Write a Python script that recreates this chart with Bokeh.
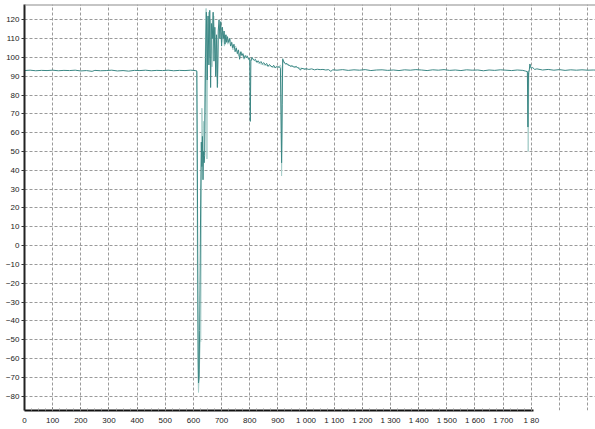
from bokeh.plotting import figure
from bokeh.models import Range1d, FixedTicker, Span
from bokeh.embed import file_html
from bokeh.resources import INLINE

nan = float("nan")

# main (dark) trace
x_dark = [0, 20, 40, 60, 80, 100, 120, 140, 160, 180, 200, 220, 240, 250, 270, 290, 310, 330, 350, 370,
          390, 410, 430, 450, 470, 490, 510, 530, 550, 570, 590, 608, 612, 614, 616, 618, 620, 622, 624, 626,
          628, 630, 632, 634, 636, 638, 640, 643, 646, 649, 652, 655, 658, 661, 664, 667, 670, 673, 676, 679,
          682, 685, 688, 691, 694, 697, 700, 703, 706, 709, 712, 715, 718, 721, 724, 728, 732, 736, 740, 744,
          748, 752, 756, 760, 764, 768, 772, 776, 780, 784, 788, 792, 796, 800, 802, 804, 808, 812, 816, 820,
          825, 830, 835, 840, 845, 850, 855, 860, 865, 870, 875, 880, 885, 890, 895, 900, 905, 909, 911, 913,
          915, 917, 920, 924, 928, 932, 936, 940, 945, 950, 955, 960, 965, 970, 975, 980, 984, 990, 996, 1000,
          1010, 1020, 1030, 1040, 1050, 1060, 1070, 1080, 1088, 1095, 1110, 1130, 1150, 1170, 1190, 1210, 1230,
          1250, 1270, 1290, 1310, 1330, 1350, 1370, 1390, 1410, 1430, 1450, 1470, 1490, 1510, 1530, 1550, 1570,
          1590, 1610, 1630, 1650, 1670, 1690, 1710, 1730, 1750, 1770, 1780, 1786, 1788, 1790, 1793, 1795, 1797,
          1800, 1805, 1812, 1820, 1840, 1860, 1880, 1900, 1920, 1940, 1960, 1980, 2000, 2020, 2040]
y_dark = [93.0, 93.2, 92.9, 93.1, 93.0, 93.2, 92.9, 93.1, 93.0, 93.2, 92.8, 93.0, 92.6, 93.1, 92.9, 93.0, 93.2, 92.8, 93.0, 92.7,
          93.1, 93.0, 93.2, 92.9, 93.1, 93.0, 93.2, 92.9, 93.1, 93.0, 93.2, 93.0, 92.8, 40, -30, -73, -70, -45, -10, 30,
          55, 42, 58, 35, 50, 44, 48, 100, 124, 88, 122, 96, 125, 84, 118, 110, 124, 98, 116, 90,
          112, 84, 114, 120, 110, 119, 106, 116, 110, 114, 107, 112, 108, 111, 108, 110, 106, 108, 105, 107,
          103, 105, 102, 104, 99, 103, 101, 102, 99.5, 101, 100, 100.5, 99, 99.5, 66, 98, 100, 99, 98.5, 99,
          97.5, 98.2, 97, 97.8, 96.5, 97.2, 96, 96.8, 95.2, 96.2, 95.5, 94.8, 95.8, 94.5, 95.2, 94.8, 95.0, 94.2, 70, 44,
          75, 99, 98, 97, 96.5, 96.8, 96, 95.8, 95.2, 95.5, 95, 94.8, 95.2, 94.6, 94.2, 93.2, 94.2, 94.0, 93.6, 94,
          93.6, 93.9, 93.4, 93.7, 93.5, 93.6, 93.3, 93.5, 92.6, 93.4, 93.2, 93.5, 93.1, 93.4, 93.2, 93.5, 93.0,
          93.3, 93.4, 93.1, 93.3, 93.0, 93.4, 93.2, 93.5, 93.3, 93.0, 93.4, 93.2, 93.5, 93.1, 93.3, 93.0, 93.4,
          93.2, 93.3, 92.9, 93.3, 93.1, 93.4, 93.2, 93.0, 93.3, 93.1, 92.7, 92.4, 63, 92, 93.5, 96.5, 95.2,
          94.2, 94.6, 93.6, 93.9, 93.3, 93.6, 93.2, 93.5, 93.1, 93.4, 93.2, 93.4, 93.2, 93.3, 93.2]

# lighter envelope trace (gaps as NaN)
x_light = [608, 612, 615, 618, 621, 624, 626, 628, 630, 632, 634, 636, 638, 641, 645, 648, 651, 654, 657, 661,
           666, 672, 680, 686, 690, 696, 700, 704, 710, 716, 722, 730, 740, 750, 760, 770, 780, 790, 800, 810,
           830, 850, 870, 890, 905, 909, 911, 913, 915, 917, 922, 935, 950, 970, 990, 1000,
           1000, 1784, 1787, 1789, 1791, 1794, 1797, 1800]
y_light = [93, 92, -60, -78, -66, -50, -51, 20, 73, 62, 47, 66, 48, 90, 126, 46, 118, 124, 100, 120,
           95, 122, 100, 86, 116, 118, 108, 114, 106, 112, 107, 110, 104, 106, 101, 103, 99, 101, 98, 99,
           97, 96, 95.5, 94.5, 95, 96, 95, 37, 60, 99.5, 97, 96, 95.5, 94.5, 94, 94,
           nan, 92.8, 92, 50, 90, 94, 96, 94]

y_ticks = [-80, -70, -60, -50, -40, -30, -20, -10, 0, 10, 20, 30, 40, 50, 60, 70, 80, 90, 100, 110, 120]
x_ticks = [0, 100, 200, 300, 400, 500, 600, 700, 800, 900, 1000, 1100, 1200, 1300, 1400, 1500, 1600, 1700, 1800]
x_tick_labels = ["0", "100", "200", "300", "400", "500", "600", "700", "800", "900", "1 000", "1 100",
                 "1 200", "1 300", "1 400", "1 500", "1 600", "1 700", "1 80"]
x_grid_ticks = [0, 100, 200, 300, 400, 500, 600, 700, 800, 900, 1000, 1100, 1200, 1300, 1400, 1500, 1600,
                1700, 1800, 1900, 2000]

FONT = "Liberation Sans"

p = figure(width=595, height=427, output_backend="svg", toolbar_location=None,
           x_range=Range1d(0, 2028), y_range=Range1d(-87.6, 128.1),
           min_border_left=24, min_border_right=0, min_border_top=4, min_border_bottom=0)
p.outline_line_color = None
p.background_fill_color = "white"
p.border_fill_color = "white"

# axes
p.xaxis.ticker = FixedTicker(ticks=x_ticks, minor_ticks=list(range(0, 1801, 25)))
p.xaxis.major_label_overrides = {t: s for t, s in zip(x_ticks, x_tick_labels)}
p.xaxis.bounds = (0, 1808)
p.xaxis.axis_line_width = 2
p.xaxis.axis_line_color = "#111111"
p.xaxis.major_tick_in = 3
p.xaxis.major_tick_out = 0
p.xaxis.minor_tick_in = 2
p.xaxis.minor_tick_out = 0
p.xaxis.major_tick_line_color = "#555555"
p.xaxis.minor_tick_line_color = "#9a9a9a"
p.xaxis.major_label_standoff = 5
p.xaxis.major_label_text_font = FONT
p.xaxis.major_label_text_font_size = "8px"
p.xaxis.major_label_text_color = "#222222"

p.yaxis.ticker = FixedTicker(ticks=y_ticks)
p.yaxis.axis_line_width = 2
p.yaxis.axis_line_color = "#222222"
p.yaxis.major_tick_in = 0
p.yaxis.major_tick_out = 3
p.yaxis.minor_tick_line_color = None
p.yaxis.major_tick_line_color = "#333333"
p.yaxis.major_label_standoff = 2
p.yaxis.major_label_text_font = FONT
p.yaxis.major_label_text_font_size = "8px"
p.yaxis.major_label_text_color = "#222222"

# grids
p.xgrid.ticker = FixedTicker(ticks=x_grid_ticks)
p.ygrid.ticker = FixedTicker(ticks=y_ticks)
for g in (p.xgrid, p.ygrid):
    g.grid_line_color = "#9a9a9a"
    g.grid_line_dash = "3 2"
    g.grid_line_width = 1

# top border
p.add_layout(Span(location=128.1, dimension="width", line_color="#8c8c8c", line_width=2))

# traces
p.line(x_light, y_light, line_color="#a9cfcb", line_width=1)
p.line(x_dark, y_dark, line_color="#3b8784", line_width=1)

open("out.html", "w").write(file_html(p, INLINE))
